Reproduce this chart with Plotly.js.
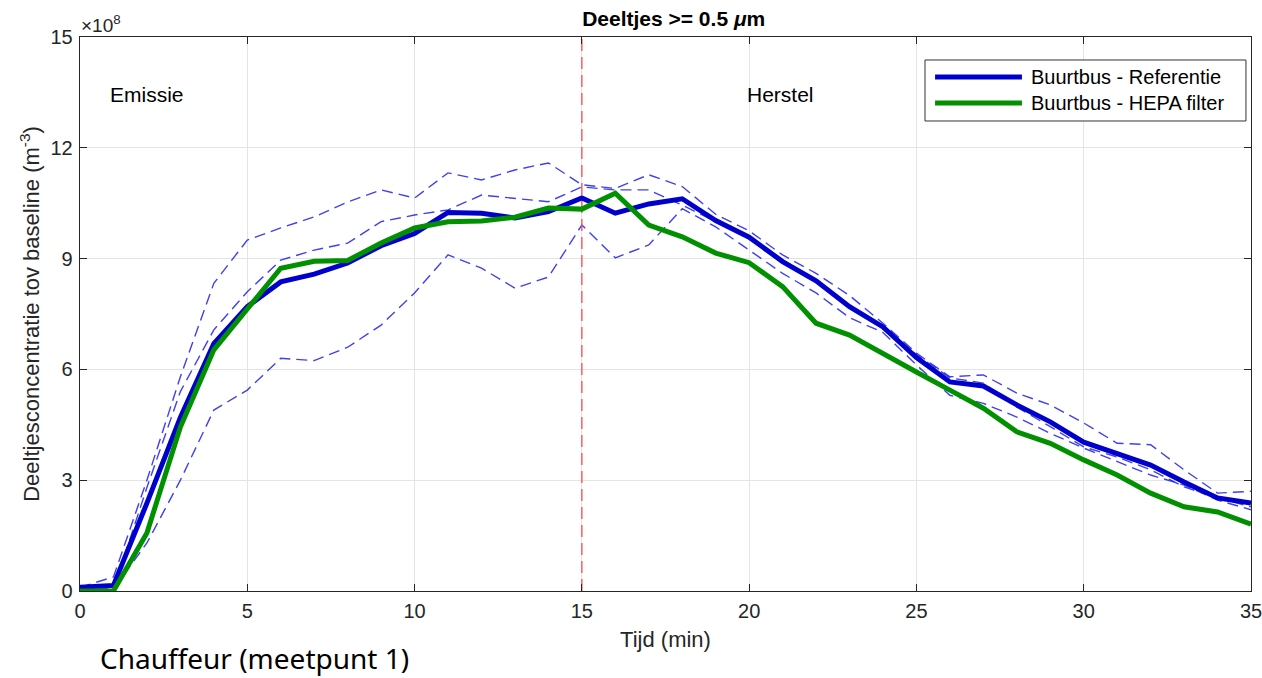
<!DOCTYPE html>
<html>
<head>
<meta charset="utf-8">
<script src="https://cdn.plot.ly/plotly-3.0.1.min.js"></script>
<style>html,body{margin:0;padding:0;background:#fff;}#chart{width:1262px;height:678px;}</style>
</head>
<body>
<div id="chart"></div>
<script>
var tijd = [0,1,2,3,4,5,6,7,8,9,10,11,12,13,14,15,16,17,18,19,20,21,22,23,24,25,26,27,28,29,30,31,32,33,34,35];
var referentie = [0.10,0.15,2.38,4.70,6.70,7.70,8.37,8.58,8.88,9.35,9.68,10.25,10.23,10.10,10.27,10.64,10.23,10.48,10.62,10.03,9.58,8.92,8.40,7.70,7.15,6.32,5.66,5.55,5.04,4.58,4.03,3.73,3.41,2.95,2.52,2.38];
var hepa = [0.00,0.00,1.57,4.44,6.53,7.62,8.74,8.93,8.95,9.42,9.83,10.00,10.02,10.12,10.37,10.34,10.77,9.91,9.59,9.15,8.89,8.24,7.25,6.93,6.42,5.93,5.44,4.95,4.31,4.00,3.55,3.14,2.65,2.28,2.14,1.81];
var run1 = [0.10,0.38,3.00,5.80,8.33,9.50,9.83,10.13,10.53,10.86,10.64,11.32,11.13,11.40,11.59,11.00,10.90,11.27,10.95,10.20,9.75,9.10,8.60,8.00,7.25,6.44,5.80,5.85,5.36,5.04,4.55,4.00,3.96,3.28,2.65,2.70];
var run2 = [0.05,0.05,2.80,5.40,7.07,8.10,8.96,9.23,9.42,10.00,10.18,10.32,10.72,10.63,10.54,10.94,10.86,10.86,10.45,10.00,9.60,8.95,8.40,7.70,7.15,6.40,5.77,5.63,4.98,4.45,3.90,3.63,3.28,2.82,2.52,2.28];
var run3 = [0.05,0.05,1.30,3.00,4.90,5.44,6.30,6.24,6.60,7.20,8.07,9.10,8.74,8.20,8.50,9.91,9.02,9.37,10.35,9.86,9.23,8.60,8.07,7.40,7.00,6.12,5.30,5.08,4.71,4.27,3.87,3.50,3.14,2.87,2.46,2.20];
var xTicks = [0,5,10,15,20,25,30,35];
var yTicks = [0,3,6,9,12,15];
var grens = 15;
var seriesNames = ['Buurtbus - Referentie', 'Buurtbus - HEPA filter'];
var seriesColors = ['#0000cc', '#009000'];

var font = 'Liberation Sans, Arial, sans-serif';
var txt = '#262626';
function dashed(y){
  return {x: tijd, y: y, mode: 'lines', showlegend: false, hoverinfo: 'skip',
    line: {color: 'rgba(30,30,235,0.85)', width: 1.4, dash: '11px,6px'}};
}
var traces = [
  dashed(run1), dashed(run2), dashed(run3),
  {x: [grens, grens], y: [0, 15], mode: 'lines', showlegend: false, hoverinfo: 'skip',
    line: {color: 'rgba(255,70,70,0.85)', width: 1.5, dash: '12px,6px'}},
  {x: tijd, y: referentie, mode: 'lines', name: seriesNames[0], showlegend: false,
    line: {color: seriesColors[0], width: 5}},
  {x: tijd, y: hepa, mode: 'lines', name: seriesNames[1], showlegend: false,
    line: {color: seriesColors[1], width: 5}}
];

// legend box (paper coords)
var lgX0 = 0.7216, lgX1 = 0.9957, lgY0 = 0.8484, lgY1 = 0.9585;
var lgRows = [0.9278, 0.8809];
var shapes = [
  {type: 'rect', xref: 'paper', yref: 'paper', x0: lgX0, x1: lgX1, y0: lgY0, y1: lgY1,
    line: {color: '#333', width: 1}, fillcolor: '#fff', layer: 'above'}
];
var annotations = [
  {xref: 'paper', yref: 'paper', x: -0.001, y: 1, xanchor: 'left', yanchor: 'bottom', yshift: -1,
    text: '×10<sup>8</sup>', showarrow: false, font: {size: 19, color: txt}},
  {xref: 'x', yref: 'y', x: 0.85, y: 13.45, xanchor: 'left', yanchor: 'middle',
    text: 'Emissie', showarrow: false, font: {size: 21, color: '#000'}},
  {xref: 'x', yref: 'y', x: 20.95, y: 13.45, xanchor: 'center', yanchor: 'middle',
    text: 'Herstel', showarrow: false, font: {size: 21, color: '#000'}},
  {xref: 'paper', yref: 'paper', x: 0.015, y: -0.121, xanchor: 'left', yanchor: 'middle',
    text: 'Chauffeur (meetpunt 1)', showarrow: false,
    font: {size: 28, color: '#000', family: 'Noto Sans, Open Sans, sans-serif'}}
];
seriesNames.forEach(function(n, i){
  shapes.push({type: 'line', xref: 'paper', yref: 'paper', x0: 0.7302, x1: 0.8044,
    y0: lgRows[i], y1: lgRows[i], line: {color: seriesColors[i], width: 5}, layer: 'above'});
  annotations.push({xref: 'paper', yref: 'paper', x: 0.8105, y: lgRows[i], xanchor: 'left',
    yanchor: 'middle', text: n, showarrow: false, font: {size: 20, color: '#000'}});
});

var layout = {
  width: 1262, height: 678,
  margin: {l: 80, r: 11, t: 37, b: 87},
  paper_bgcolor: '#fff', plot_bgcolor: '#fff',
  font: {family: font, color: txt, size: 20},
  showlegend: false,
  title: {text: '<b>Deeltjes >= 0.5 <i>μ</i>m</b>', xref: 'paper', x: 0.507, xanchor: 'center', y: 0.972, yanchor: 'middle',
    font: {size: 21, color: '#000', family: font}},
  xaxis: {range: [0, 35], tickvals: xTicks, ticktext: xTicks.map(String),
    ticks: 'inside', ticklen: 7, tickcolor: txt, showline: true, linecolor: txt, linewidth: 1.3,
    mirror: 'ticks', showgrid: true, gridcolor: '#e4e4e4', gridwidth: 1, zeroline: false,
    tickfont: {size: 20, color: txt}, ticklabelstandoff: 2, ticklabeloverflow: 'allow',
    title: {text: 'Tijd (min)', font: {size: 22, color: txt}, standoff: 10}},
  yaxis: {range: [0, 15], tickvals: yTicks, ticktext: yTicks.map(String),
    ticks: 'inside', ticklen: 7, tickcolor: txt, showline: true, linecolor: txt, linewidth: 1.3,
    mirror: 'ticks', showgrid: true, gridcolor: '#e4e4e4', gridwidth: 1, zeroline: false,
    tickfont: {size: 20, color: txt}, ticklabelstandoff: 2,
    title: {text: 'Deeltjesconcentratie tov baseline (m<sup>-3</sup>)', font: {size: 22, color: txt}, standoff: 4}},
  shapes: shapes,
  annotations: annotations
};
Plotly.newPlot('chart', traces, layout, {displayModeBar: false, staticPlot: true});
</script>
</body>
</html>
